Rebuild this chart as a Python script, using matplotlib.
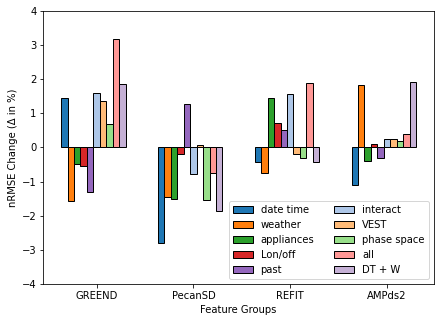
import numpy as np
import matplotlib.pyplot as plt

groups = ["GREEND", "PecanSD", "REFIT", "AMPds2"]
features = ["date time", "weather", "appliances", "Lon/off", "past",
            "interact", "VEST", "phase space", "all", "DT + W"]

# nRMSE change per feature set, one row per feature, one column per dataset
date_time = [1.44, -2.79, -0.44, -1.09]
weather = [-1.56, -1.44, -0.74, 1.82]
appliances = [-0.49, -1.50, 1.44, -0.41]
lonoff = [-0.55, -0.18, 0.71, 0.09]
past = [-1.32, 1.29, 0.50, -0.32]
interact = [1.59, -0.79, 1.56, 0.26]
vest = [1.36, 0.06, -0.18, 0.26]
phase_space = [0.68, -1.53, -0.32, 0.18]
all_feats = [3.18, -0.76, 1.88, 0.41]
dt_w = [1.85, -1.85, -0.44, 1.91]

values = [date_time, weather, appliances, lonoff, past,
          interact, vest, phase_space, all_feats, dt_w]

colors = plt.get_cmap("tab20").colors
colors = list(colors[0:10:2]) + list(colors[1:10:2])

fig, ax = plt.subplots(figsize=(440 / 72, 321 / 72), dpi=72)
x = np.arange(len(groups))
w = 0.8 / 12
for i, vals in enumerate(values):
    ax.bar(x + (i - 5) * w, vals, w, color=colors[i], edgecolor="black",
           label=features[i])

ax.set_xticks(x)
ax.set_xticklabels(groups)
ax.set_ylim(-4, 4)
ax.set_xlabel("Feature Groups")
ax.set_ylabel("nRMSE Change (Δ in %)")
ax.legend(loc="lower right", ncol=2)
fig.subplots_adjust(left=0.0985, right=0.986, top=0.965, bottom=0.116)
fig.savefig("out.png", dpi=72)
